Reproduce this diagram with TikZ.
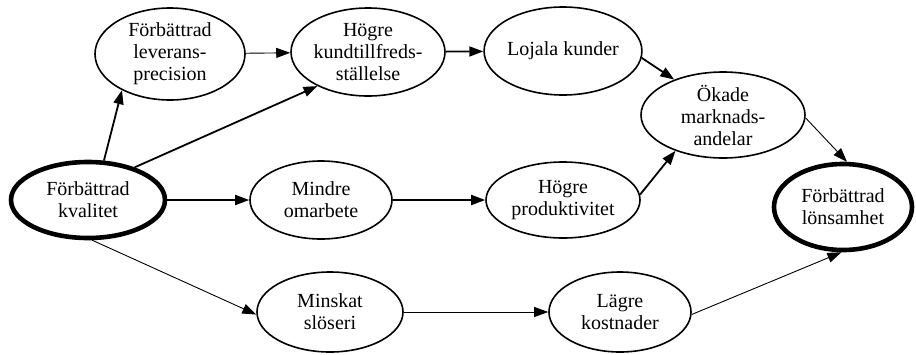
\documentclass[tikz,border=0pt]{standalone}
\usepackage{fontspec}
\setmainfont{Liberation Serif}
\usetikzlibrary{shapes.geometric,arrows.meta}
\begin{document}
\begin{tikzpicture}[x=1pt,y=-1pt,
  bubble/.style={ellipse,draw,line width=1.6pt,inner sep=0pt,align=center,
    font=\fontsize{20}{22}\selectfont},
  keybubble/.style={bubble,line width=4.6pt},
  link/.style={-{Triangle[length=14pt,width=10pt]},line width=1.8pt},
  thinlink/.style={-{Triangle[length=14pt,width=10pt]},line width=0.9pt}]
\useasboundingbox (0,0) rectangle (916,354);

% outcome chain, top row
\node[bubble,minimum width=150pt,minimum height=92pt] (lev) at (170,54)
  {Förbättrad\\leverans-\\precision};
\node[bubble,minimum width=148pt,minimum height=88pt] (kund) at (368,52)
  {Högre\\kundtillfreds-\\ställelse};
\node[bubble,minimum width=144pt,minimum height=88pt] (loj) at (563,51)
  {Lojala kunder};
\node[bubble,minimum width=164pt,minimum height=86pt] (mark) at (723,115)
  {Ökade\\marknads-\\andelar};

% middle row
\node[keybubble,minimum width=154pt,minimum height=76pt] (kval) at (88,200)
  {Förbättrad\\kvalitet};
\node[bubble,minimum width=142pt,minimum height=78pt] (omarb) at (321,200)
  {Mindre\\omarbete};
\node[bubble,minimum width=154pt,minimum height=76pt] (prod) at (563,200)
  {Högre\\produktivitet};
\node[keybubble,minimum width=138pt,minimum height=86pt] (lon) at (843,207)
  {Förbättrad\\lönsamhet};

% bottom row
\node[bubble,minimum width=146pt,minimum height=80pt] (slos) at (330,312)
  {Minskat\\slöseri};
\node[bubble,minimum width=142pt,minimum height=80pt] (kost) at (620,312)
  {Lägre\\kostnader};

% connectors
\draw[link] (kval.68) -- (lev.217);
\draw[link] (kval.35) -- (kund.214);
\draw[thinlink] (lev) -- (kund);
\draw[link] (kund) -- (loj);
\draw[link] (loj.355) -- (mark.144);
\draw[link] (kval) -- (omarb);
\draw[link] (omarb) -- (prod);
\draw[link] (prod.4) -- (mark.217);
\draw[thinlink] (mark.358) -- (lon.85);
\draw[thinlink] (kval.276) -- (slos.182);
\draw[thinlink] (slos) -- (kost);
\draw[thinlink] (kost.358) -- (lon.268);
\end{tikzpicture}
\end{document}
